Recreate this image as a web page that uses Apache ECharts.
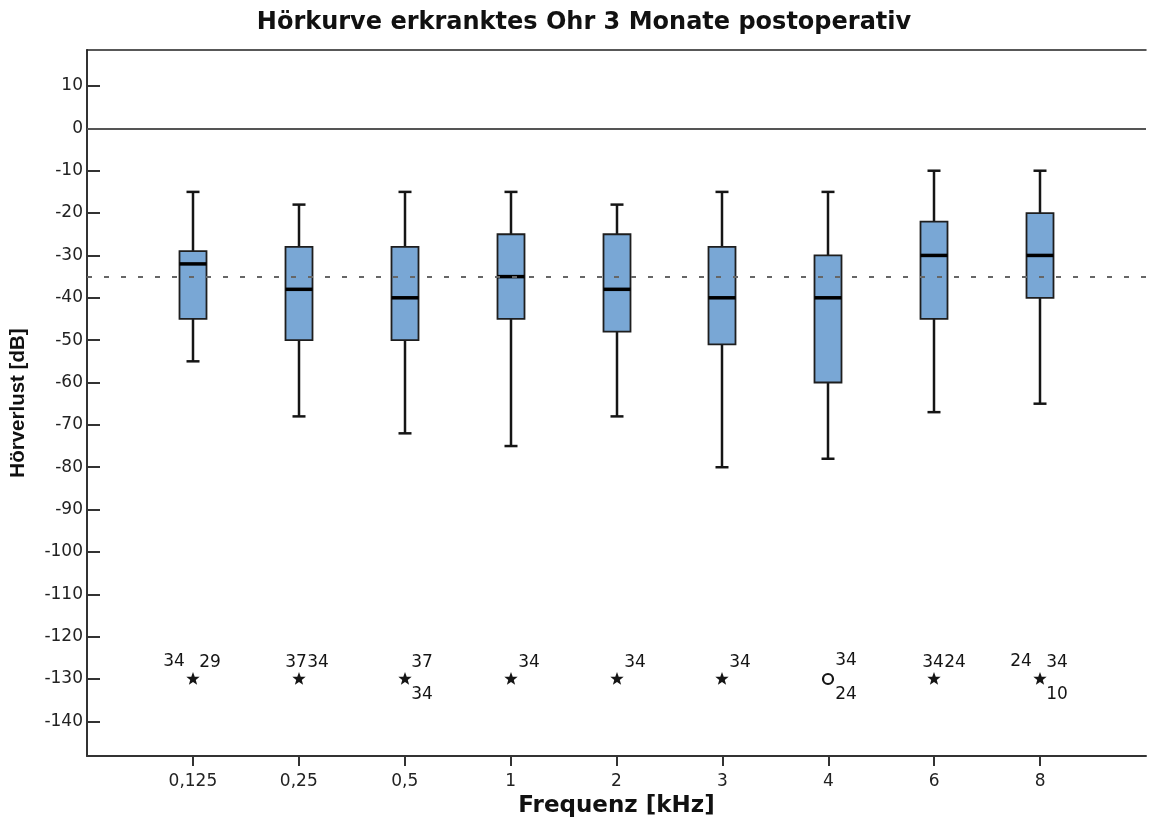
<!DOCTYPE html>
<html>
<head>
<meta charset="utf-8">
<title>Hörkurve erkranktes Ohr 3 Monate postoperativ</title>
<script src="https://cdn.jsdelivr.net/npm/echarts@6/dist/echarts.min.js"></script>
<style>
  html, body { margin: 0; padding: 0; background: #fff; }
  #chart { width: 1149px; height: 823px; }
</style>
</head>
<body>
<div id="chart"></div>
<script>
// Frequencies (kHz) shown on the x axis
const freqLabels = ['0,125', '0,25', '0,5', '1', '2', '3', '4', '6', '8'];

// Box statistics per frequency (hearing loss in dB)
const whiskerLow  = [-55, -68, -72, -75, -68, -80, -78, -67, -65];
const quartile1   = [-45, -50, -50, -45, -48, -51, -60, -45, -40];
const median      = [-32, -38, -40, -35, -38, -40, -40, -30, -30];
const quartile3   = [-29, -28, -28, -25, -25, -28, -30, -22, -20];
const whiskerHigh = [-15, -18, -15, -15, -18, -15, -15, -10, -10];

// Outliers / extreme values per frequency
const outlierValue = [-130, -130, -130, -130, -130, -130, -130, -130, -130];
const outlierKind  = ['extreme', 'extreme', 'extreme', 'extreme', 'extreme', 'extreme', 'outlier', 'extreme', 'extreme'];
const outlierCases = [['34', '29'], ['37', '34'], ['37', '34'], ['34'], ['34'], ['34'], ['34', '24'], ['34', '24'], ['24', '34', '10']];

// Reference lines
const zeroLine = 0;
const meanLine = -35;

// Y axis ticks
const yTicks = [10, 0, -10, -20, -30, -40, -50, -60, -70, -80, -90, -100, -110, -120, -130, -140];

// Label placement of case numbers around each outlier symbol (pixels)
const caseLabelOffsets = [
  [[-19, -17], [17, -16]],
  [[-3, -16], [19, -16]],
  [[17, -16], [17, 16]],
  [[18, -16]],
  [[18, -16]],
  [[18, -16]],
  [[18, -18], [18, 16]],
  [[-1, -16], [21, -16]],
  [[-19, -17], [17, -16], [17, 16]]
];

// Category axis with an empty slot at each end so the boxes sit one step in from the frame
const axisCategories = [''].concat(freqLabels, ['']);

const boxData = freqLabels.map((f, i) => [i + 1, whiskerLow[i], quartile1[i], median[i], quartile3[i], whiskerHigh[i]]);
const outlierData = freqLabels.map((f, i) => [i + 1, outlierValue[i]]);

const INK = '#151515';
const BOX_FILL = '#79a7d5';
const TICK_FONT = '"DejaVu Sans", sans-serif';

function renderBox(params, api) {
  const idx = api.value(0);
  const pLo = api.coord([idx, api.value(1)]);
  const pQ1 = api.coord([idx, api.value(2)]);
  const pMed = api.coord([idx, api.value(3)]);
  const pQ3 = api.coord([idx, api.value(4)]);
  const pHi = api.coord([idx, api.value(5)]);
  const x = Math.round(pLo[0]);
  const halfBox = 13.5;
  const halfCap = 6.5;
  const wStyle = { stroke: INK, lineWidth: 2.5 };
  return {
    type: 'group',
    children: [
      { type: 'line', shape: { x1: x, y1: pHi[1], x2: x, y2: pQ3[1] }, style: wStyle },
      { type: 'line', shape: { x1: x, y1: pQ1[1], x2: x, y2: pLo[1] }, style: wStyle },
      { type: 'line', shape: { x1: x - halfCap, y1: pHi[1], x2: x + halfCap, y2: pHi[1] }, style: wStyle },
      { type: 'line', shape: { x1: x - halfCap, y1: pLo[1], x2: x + halfCap, y2: pLo[1] }, style: wStyle },
      {
        type: 'rect',
        shape: { x: x - halfBox, y: pQ3[1], width: halfBox * 2, height: pQ1[1] - pQ3[1] },
        style: { fill: BOX_FILL, stroke: '#1e1e1e', lineWidth: 1.8 }
      },
      { type: 'line', shape: { x1: x - halfBox, y1: pMed[1], x2: x + halfBox, y2: pMed[1] }, style: { stroke: '#000', lineWidth: 3.5 } }
    ]
  };
}

function starPoints(cx, cy, rOuter, rInner) {
  const pts = [];
  for (let k = 0; k < 10; k++) {
    const r = k % 2 === 0 ? rOuter : rInner;
    const a = -Math.PI / 2 + k * Math.PI / 5;
    pts.push([cx + r * Math.cos(a), cy + r * Math.sin(a)]);
  }
  return pts;
}

function renderOutlier(params, api) {
  const i = params.dataIndex;
  const p = api.coord([api.value(0), api.value(1)]);
  const cx = Math.round(p[0]);
  const cy = p[1];
  const children = [];
  if (outlierKind[i] === 'outlier') {
    children.push({ type: 'circle', shape: { cx: cx, cy: cy, r: 5 }, style: { fill: 'none', stroke: INK, lineWidth: 2.2 } });
  } else {
    children.push({ type: 'polygon', shape: { points: starPoints(cx, cy, 7, 2.9) }, style: { fill: INK } });
  }
  outlierCases[i].forEach((c, k) => {
    const off = caseLabelOffsets[i][k];
    children.push({
      type: 'text',
      x: cx + off[0],
      y: cy + off[1],
      style: { text: c, fill: INK, fontSize: 17, fontFamily: TICK_FONT, align: 'center', verticalAlign: 'middle' }
    });
  });
  return { type: 'group', children: children };
}

const chart = echarts.init(document.getElementById('chart'));
chart.setOption({
  backgroundColor: '#ffffff',
  animation: false,
  title: {
    text: 'Hörkurve erkranktes Ohr 3 Monate postoperativ',
    left: 579,
    top: 6,
    textAlign: 'center',
    textStyle: { fontFamily: '"DejaVu Sans", sans-serif', fontWeight: 'bold', fontSize: 24, color: '#111' }
  },
  grid: { left: 84, top: 50, width: 1066, height: 712, containLabel: false },
  xAxis: [
    {
      type: 'category',
      data: axisCategories,
      boundaryGap: false,
      position: 'bottom',
      name: 'Frequenz [kHz]',
      nameLocation: 'middle',
      nameGap: 34,
      nameTextStyle: { fontFamily: '"DejaVu Sans", sans-serif', fontWeight: 'bold', fontSize: 23, color: '#111' },
      axisLine: { show: true, onZero: false, lineStyle: { color: '#333', width: 2 } },
      axisTick: {
        show: true,
        inside: false,
        length: 10,
        interval: (index, value) => value !== '',
        lineStyle: { color: '#333', width: 2 }
      },
      axisLabel: {
        interval: 0,
        margin: 17,
        fontFamily: TICK_FONT,
        fontSize: 17,
        color: '#222'
      },
      splitLine: { show: false }
    },
    {
      type: 'category',
      data: axisCategories,
      boundaryGap: false,
      position: 'top',
      axisLine: { show: true, onZero: false, lineStyle: { color: '#222', width: 1.5 } },
      axisTick: { show: false },
      axisLabel: { show: false },
      splitLine: { show: false }
    }
  ],
  yAxis: {
    type: 'value',
    min: -148.2,
    max: 18.5,
    name: 'Hörverlust [dB]',
    nameLocation: 'middle',
    nameRotate: 90,
    nameGap: 58,
    nameTextStyle: { fontFamily: '"Liberation Sans", Arial, sans-serif', fontWeight: 'bold', fontSize: 20.5, color: '#111' },
    axisLine: { show: true, onZero: false, lineStyle: { color: '#333', width: 2 } },
    axisTick: { show: true, inside: true, length: 13, customValues: yTicks, lineStyle: { color: '#333', width: 2 } },
    axisLabel: {
      customValues: yTicks,
      margin: 4,
      fontFamily: TICK_FONT,
      fontSize: 17,
      color: '#222',
      formatter: (v) => String(v)
    },
    splitLine: { show: false }
  },
  series: [
    {
      type: 'custom',
      name: 'box',
      renderItem: renderBox,
      encode: { x: 0, y: [1, 2, 3, 4, 5] },
      data: boxData,
      z: 2
    },
    {
      type: 'custom',
      name: 'outliers',
      renderItem: renderOutlier,
      encode: { x: 0, y: 1 },
      data: outlierData,
      z: 3
    },
    {
      type: 'line',
      name: 'reference',
      data: [],
      z: 4,
      markLine: {
        silent: true,
        symbol: 'none',
        label: { show: false },
        animation: false,
        data: [
          { yAxis: zeroLine, lineStyle: { color: '#555', width: 2, type: 'solid' } },
          { yAxis: meanLine, lineStyle: { color: '#666', width: 2, type: [5, 12] } }
        ]
      }
    }
  ]
});
</script>
</body>
</html>
